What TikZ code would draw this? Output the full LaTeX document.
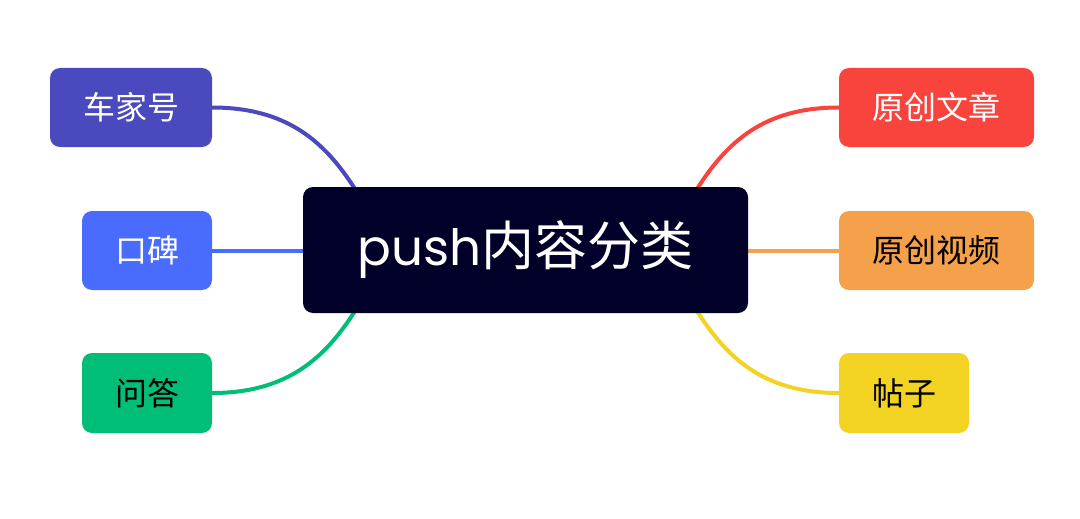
\documentclass[tikz,border=0pt]{standalone}
\usepackage{fontspec}
\setmainfont{Noto Sans CJK SC}
\newfontfamily\latinfont{Poppins}
\usetikzlibrary{backgrounds}
\definecolor{cnavy}{RGB}{0,0,40}
\definecolor{cpurple}{RGB}{75,73,190}
\definecolor{cblue}{RGB}{73,108,255}
\definecolor{cgreen}{RGB}{0,190,120}
\definecolor{cred}{RGB}{248,68,61}
\definecolor{corange}{RGB}{245,160,75}
\definecolor{cyellow}{RGB}{242,211,33}
\tikzset{
  leaf/.style={rounded corners=10pt, inner sep=0pt, minimum height=79pt,
    font=\fontsize{32}{38}\selectfont},
  link/.style={line width=4pt}
}
\begin{document}
\begin{tikzpicture}[x=1pt,y=-1pt]
\useasboundingbox (0,0) rectangle (1080,519);
\node[fill=cnavy, rounded corners=10pt, minimum width=445pt, minimum height=126pt, inner sep=0pt,
  text=white, font=\fontsize{53}{64}\selectfont] (c) at (525.5,250) {{\latinfont\fontsize{50}{60}\selectfont push}内容分类};
\node[leaf, fill=cpurple, text=white, minimum width=162pt] (a1) at (131,107.5) {车家号};
\node[leaf, fill=cblue, text=white, minimum width=130pt] (a2) at (147,250.5) {口碑};
\node[leaf, fill=cgreen, text=black, minimum width=130pt, minimum height=80pt] (a3) at (147,393) {问答};
\node[leaf, fill=cred, text=white, minimum width=195pt] (b1) at (936.5,107.5) {原创文章};
\node[leaf, fill=corange, text=black, minimum width=195pt] (b2) at (936.5,250.5) {原创视频};
\node[leaf, fill=cyellow, text=black, minimum width=130pt, minimum height=80pt] (b3) at (904,393) {帖子};
\coordinate (p1) at (355,189);
\coordinate (p3) at (355,311);
\coordinate (q1) at (697,189);
\coordinate (q3) at (697,311);
\begin{scope}[on background layer]
\draw[link, cpurple] (a1.east) .. controls +(75,0) and +(-30,-47) .. (p1);
\draw[link, cblue] (a2.east) -- (a2.east -| c.west);
\draw[link, cgreen] (a3.east) .. controls +(75,0) and +(-30,47) .. (p3);
\draw[link, cred] (b1.west) .. controls +(-75,0) and +(30,-47) .. (q1);
\draw[link, corange] (b2.west) -- (b2.west -| c.east);
\draw[link, cyellow] (b3.west) .. controls +(-75,0) and +(30,47) .. (q3);
\end{scope}
\end{tikzpicture}
\end{document}
